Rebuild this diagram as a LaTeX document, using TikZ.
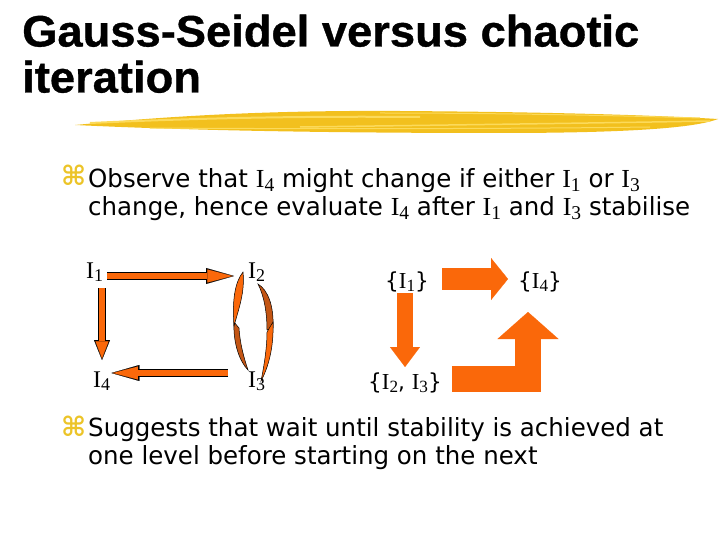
\documentclass[tikz,border=0pt]{standalone}
\usepackage{fontspec}
\setmainfont{DejaVu Sans}[FakeStretch=0.98]
\newfontfamily\headfont{Liberation Sans}[FakeStretch=1.03,FakeBold=0.8]
\newfontfamily\serfont{Liberation Serif}[Scale=1.04]
\newfontfamily\markfont{DejaVu Sans}
\usetikzlibrary{arrows.meta}
\definecolor{arrorange}{RGB}{250,104,10}
\definecolor{ribbondark}{RGB}{195,85,20}
\definecolor{brushyellow}{RGB}{242,192,30}
\definecolor{brushlight}{RGB}{252,218,90}
\definecolor{bulletgold}{RGB}{236,196,40}
\newcommand{\Iv}[1]{{\serfont I\raisebox{-0.15em}{\scalebox{0.75}{#1}}}}
\tikzset{
	titletext/.style={font=\headfont\bfseries\fontsize{44}{44}\selectfont,anchor=base west},
	bodytext/.style={font=\fontsize{25}{25}\selectfont,anchor=base west},
	bulletmark/.style={font=\markfont\bfseries\fontsize{27}{27}\selectfont,text=bulletgold,anchor=base west},
	varlabel/.style={font=\fontsize{23}{23}\selectfont,anchor=base west},
	setlabel/.style={font=\fontsize{22}{22}\selectfont,anchor=base west},
	thinarrow/.style={draw=black,line width=7.5pt,
		-{Triangle[length=#1,width=16pt,line width=0.1pt]},
		postaction={draw=arrorange,line width=5.5pt,shorten >=1.6pt,
			-{Triangle[length=#1-3pt,width=13pt,line width=0.1pt]}}},
	thinarrow/.default=28pt,
	fatarrow/.style={draw=arrorange,line width=#1,-{Triangle[length=17pt,width=42pt,line width=0.1pt]}},
	ribbon/.style={fill=#1,draw=black,line width=0.5pt}
}
\begin{document}
\begin{tikzpicture}[x=1pt,y=-1pt,every node/.style={inner sep=0pt}]
	\useasboundingbox (0,0) rectangle (720,540);
	\node[titletext] (title1) at (22,46.5) {Gauss-Seidel versus chaotic};
	\node[titletext] (title2) at (22,92.5) {iteration};
	\fill[brushyellow] (75,125) .. controls (150,118) and (250,110) .. (400,111)
	.. controls (550,112) and (650,115) .. (718,119)
	.. controls (700,126) and (650,133) .. (500,133)
	.. controls (350,133) and (200,131) .. (75,125) -- cycle;
	\draw[brushlight,line width=2pt] (90,123) .. controls (200,118) and (300,116) .. (420,117);
	\draw[brushlight,line width=1.5pt] (300,127) .. controls (450,125) and (600,123) .. (710,121);
	\draw[brushlight,line width=1pt] (150,128) .. controls (300,129) and (500,129) .. (650,127);
	\draw[brushlight,line width=1pt] (380,113) .. controls (480,113) and (600,115) .. (700,118);
	\node[bulletmark] (b1) at (61,186) {⌘};
	\node[bodytext] (l1) at (88,187.5) {Observe that \Iv{4} might change if either \Iv{1} or \Iv{3}};
	\node[bodytext] (l2) at (88,215.5) {change, hence evaluate \Iv{4} after \Iv{1} and \Iv{3} stabilise};
	\node[varlabel] (i1) at (86,278) {\Iv{1}};
	\node[varlabel] (i2) at (248,278) {\Iv{2}};
	\node[varlabel] (i3) at (248,387) {\Iv{3}};
	\node[varlabel] (i4) at (93,387) {\Iv{4}};
	\draw[thinarrow] ([shift={(4,-2)}]i1.base east) -- ([shift={(-14,-2)}]i2.base west);
	\draw[thinarrow=20pt] ([shift={(16,10)}]i1.base west) -- ([shift={(9,-27)}]i4.base west);
	\draw[thinarrow] ([shift={(-20,-14)}]i3.base west) -- ([shift={(1,-14)}]i4.base east);
	\begin{scope}[shift={(i2.base west)}]
		\draw[ribbon=ribbondark] (-14,44) .. controls (-15,66) and (-8,84) .. (0,92)
		.. controls (-4,80) and (-8,66) .. (-9,50) -- cycle;
		\draw[ribbon=arrorange] (-5,-6) .. controls (-13,4) and (-16,22) .. (-14,48)
		.. controls (-9,30) and (-3,14) .. (-5,-6) -- cycle;
		\draw[ribbon=ribbondark] (10,6) .. controls (20,12) and (26,28) .. (25,50)
		-- (19,52) .. controls (19,34) and (16,18) .. (10,6) -- cycle;
		\draw[ribbon=arrorange] (25,44) .. controls (26,70) and (20,90) .. (13,103)
		.. controls (16,88) and (19,70) .. (19,54) -- cycle;
	\end{scope}
	\node[setlabel] (s1) at (385,288) {\{\Iv{1}\}};
	\node[setlabel] (s4) at (518,288) {\{\Iv{4}\}};
	\node[setlabel] (s23) at (368,389) {\{\Iv{2}, \Iv{3}\}};
	\draw[fatarrow=22pt] ([shift={(13,-9)}]s1.base east) -- ([shift={(-10,-9)}]s4.base west);
	\draw[draw=arrorange,line width=16pt,-{Triangle[length=20pt,width=30pt,line width=0.1pt]}]
	([shift={(20,5)}]s1.base west) -- ([shift={(37,-22)}]s23.base west);
	\draw[draw=arrorange,line width=26pt,-{Triangle[length=27pt,width=61pt,line width=0.1pt]}]
	([shift={(10,-10)}]s23.base east) -| ([shift={(10,24)}]s4.base west);
	\node[bulletmark] (b2) at (61,436) {⌘};
	\node[bodytext] (l3) at (88,436) {Suggests that wait until stability is achieved at};
	\node[bodytext] (l4) at (88,464.5) {one level before starting on the next};
\end{tikzpicture}
\end{document}
